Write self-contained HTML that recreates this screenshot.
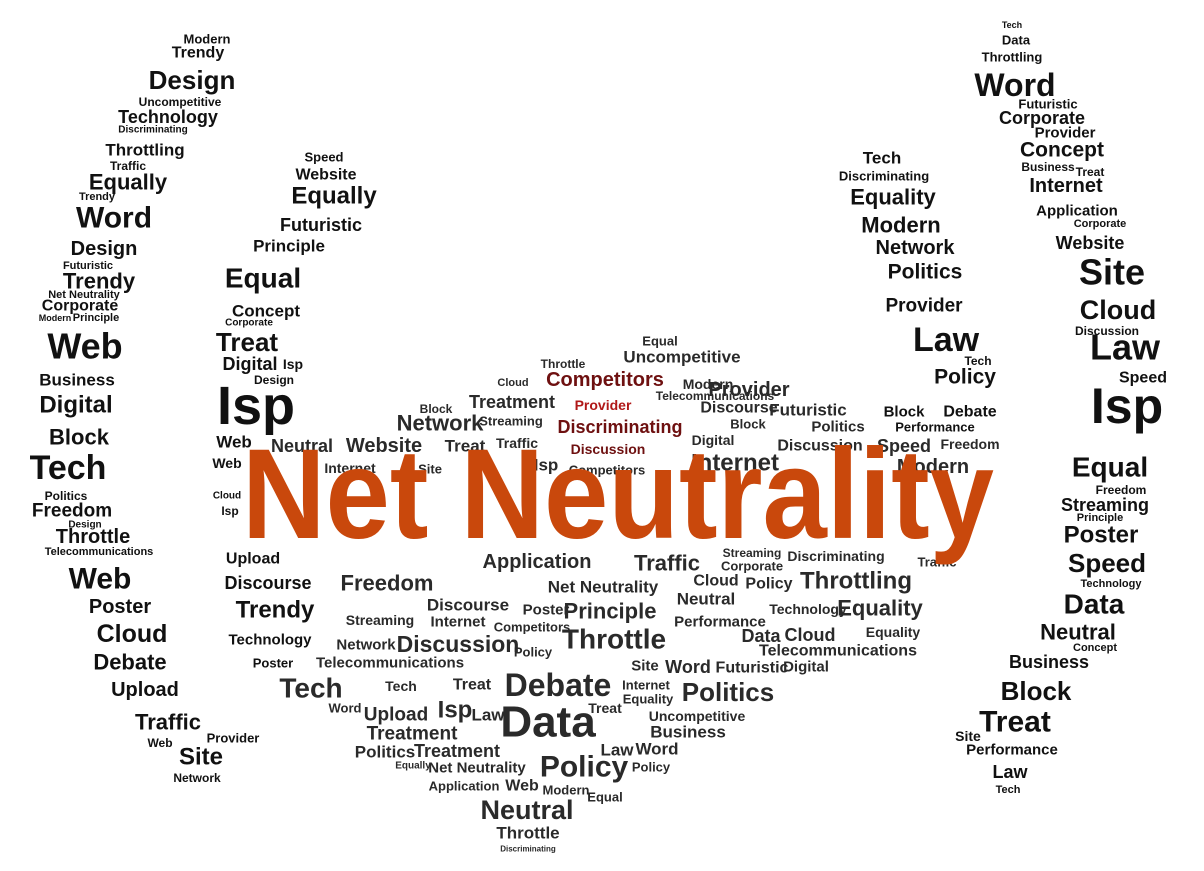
<!DOCTYPE html>
<html><head><meta charset="utf-8"><style>
html,body{margin:0;padding:0;background:#fff;}
svg{display:block;}
text{font-family:"Liberation Sans",sans-serif;font-weight:bold;}
</style></head>
<body>
<svg id="cloud" width="1204" height="871" viewBox="0 0 1204 871" xmlns="http://www.w3.org/2000/svg">
<rect width="1204" height="871" fill="#fff"/>
<text x="242" y="538" font-size="128" fill="#c9480c" textLength="752" lengthAdjust="spacingAndGlyphs">Net Neutrality</text>
</svg>
<script>
// [word, centerX, centerY, fontSize, colorKey]
const words = [
["Modern",207,39,13,0],["Trendy",198,53,16,0],["Design",192,80,26,0],["Uncompetitive",180,102,12,0],["Technology",168,117,18,0],["Discriminating",153,130,10,0],["Throttling",145,150,17,0],["Traffic",128,166,12,0],["Equally",128,182,22,0],["Trendy",97,197,11,0],["Word",114,218,30,0],["Design",104,249,20,0],["Futuristic",88,266,11,0],["Trendy",99,281,22,0],["Net Neutrality",84,295,11,0],["Corporate",80,306,16,0],["Modern",55,318,9,0],["Principle",96,318,11,0],["Web",85,346,36,0],["Business",77,380,17,0],["Digital",76,405,24,0],["Block",79,437,22,0],["Tech",68,468,34,0],["Politics",66,496,12,0],["Freedom",72,511,19,0],["Design",85,525,10,0],["Throttle",93,537,20,0],["Telecommunications",99,552,11,0],["Web",100,579,30,0],["Poster",120,607,20,0],["Cloud",132,634,25,0],["Debate",130,662,22,0],["Upload",145,690,20,0],["Traffic",168,722,22,0],["Web",160,743,12,0],["Site",201,757,24,0],["Network",197,778,12,0],["Provider",233,738,13,0],
["Speed",324,157,13,0],["Website",326,175,16,0],["Equally",334,196,24,0],["Futuristic",321,225,18,0],["Principle",289,246,17,0],["Equal",263,278,28,0],["Concept",266,311,17,0],["Corporate",249,323,10,0],["Treat",247,342,26,0],["Digital",250,364,18,0],["Isp",293,364,14,0],["Design",274,380,12,0],["Isp",256,406,54,0],["Web",234,442,17,0],["Web",227,463,14,0],["Cloud",227,496,10,0],["Isp",230,511,12,0],["Upload",253,559,16,0],["Discourse",268,583,18,0],["Trendy",275,610,24,0],["Technology",270,640,15,0],["Poster",273,663,13,0],
["Tech",1012,25,9,0],["Data",1016,40,13,0],["Throttling",1012,57,13,0],["Word",1015,85,32,0],["Futuristic",1048,104,13,0],["Corporate",1042,118,18,0],["Provider",1065,133,15,0],["Concept",1062,150,21,0],["Business",1048,167,12,0],["Treat",1090,172,12,0],["Internet",1066,186,20,0],["Application",1077,211,15,0],["Corporate",1100,224,11,0],["Website",1090,243,18,0],["Site",1112,272,36,0],["Cloud",1118,310,27,0],["Discussion",1107,331,12,0],["Law",1125,347,36,0],["Speed",1143,378,16,0],["Isp",1127,406,50,0],["Equal",1110,467,28,0],["Freedom",1121,490,12,0],["Streaming",1105,505,18,0],["Principle",1100,518,11,0],["Poster",1101,535,24,0],["Speed",1107,563,26,0],["Technology",1111,584,11,0],["Data",1094,604,28,0],["Neutral",1078,632,22,0],["Concept",1095,648,11,0],["Business",1049,662,18,0],["Block",1036,691,26,0],["Treat",1015,722,30,0],["Site",968,736,14,0],["Performance",1012,750,15,0],["Law",1010,772,18,0],["Tech",1008,790,11,0],
["Tech",882,158,17,0],["Discriminating",884,176,13,0],["Equality",893,197,22,0],["Modern",901,225,22,0],["Network",915,248,20,0],["Politics",925,272,21,0],["Provider",924,306,19,0],["Law",946,340,34,0],["Tech",978,361,12,0],["Policy",965,377,21,0],["Block",904,412,15,0],["Debate",970,412,16,0],["Performance",935,427,13,0],["Speed",904,446,18,1],["Freedom",970,444,14,1],["Modern",933,467,20,1],
["Equal",660,341,13,1],["Uncompetitive",682,357,17,1],["Throttle",563,364,12,1],["Competitors",605,380,20,2],["Cloud",513,383,11,1],["Modern",708,384,14,1],["Provider",749,390,20,1],["Telecommunications",715,396,12,1],["Treatment",512,402,18,1],["Provider",603,405,14,3],["Block",436,409,12,1],["Discourse",739,408,16,1],["Futuristic",808,410,17,1],["Network",440,423,22,1],["Streaming",511,421,13,1],["Block",748,424,13,1],["Discriminating",620,427,18,2],["Politics",838,427,15,1],["Digital",713,440,14,1],["Website",384,446,20,1],["Neutral",302,446,18,1],["Treat",465,446,17,1],["Traffic",517,443,14,1],["Discussion",608,449,14,2],["Discussion",820,446,16,1],["Internet",735,463,24,1],["Isp",546,465,17,1],["Internet",350,468,14,1],["Site",430,469,13,1],["Competitors",607,470,13,1],
["Application",537,562,20,1],["Streaming",752,553,12,1],["Discriminating",836,556,14,1],["Traffic",667,563,22,1],["Traffic",937,562,13,1],["Corporate",752,566,13,1],["Throttling",856,581,24,1],["Freedom",387,583,22,1],["Net Neutrality",603,587,17,1],["Cloud",716,581,16,1],["Policy",769,584,16,1],["Neutral",706,599,17,1],["Discourse",468,605,17,1],["Principle",610,611,22,1],["Poster",546,610,15,1],["Technology",808,609,14,1],["Equality",880,608,22,1],["Streaming",380,620,14,1],["Internet",458,622,15,1],["Performance",720,622,15,1],["Competitors",532,627,13,1],["Throttle",614,639,28,1],["Data",761,636,18,1],["Cloud",810,635,18,1],["Equality",893,632,14,1],["Discussion",458,644,23,1],["Network",366,645,15,1],["Telecommunications",838,651,16,1],["Policy",533,652,13,1],["Telecommunications",390,663,15,1],["Site",645,666,15,1],["Word",688,667,18,1],["Futuristic",752,668,16,1],["Digital",806,667,15,1],["Tech",311,688,28,1],["Tech",401,686,14,1],["Treat",472,685,16,1],["Debate",558,685,32,1],["Internet",646,685,13,1],["Politics",728,692,26,1],["Equality",648,699,13,1],["Word",345,708,13,1],["Treat",605,708,14,1],["Isp",455,710,24,1],["Upload",396,715,19,1],["Law",488,715,17,1],["Uncompetitive",697,716,14,1],["Data",548,722,44,1],["Business",688,732,17,1],["Treatment",412,734,19,1],["Treatment",457,751,18,1],["Politics",385,752,17,1],["Law",617,750,17,1],["Word",657,749,17,1],["Policy",584,767,30,1],["Policy",651,767,13,1],["Equally",413,766,10,1],["Net Neutrality",477,768,15,1],["Application",464,786,13,1],["Web",522,786,16,1],["Modern",566,790,13,1],["Equal",605,797,13,1],["Neutral",527,810,27,1],["Throttle",528,833,17,1],["Discriminating",528,849,8,1]
];
const palette = ["#111111","#2a2a2a","#6e1010","#b01818"];
const svg = document.getElementById('cloud');
const title = svg.lastElementChild;
words.forEach(function(w){
  const t = document.createElementNS('http://www.w3.org/2000/svg','text');
  t.setAttribute('x', w[1]);
  t.setAttribute('y', w[2]);
  t.setAttribute('font-size', w[3]);
  t.setAttribute('fill', palette[w[4]]);
  t.setAttribute('text-anchor','middle');
  t.setAttribute('dominant-baseline','central');
  
  
  t.textContent = w[0];
  svg.insertBefore(t, title);
});
</script>
</body></html>
